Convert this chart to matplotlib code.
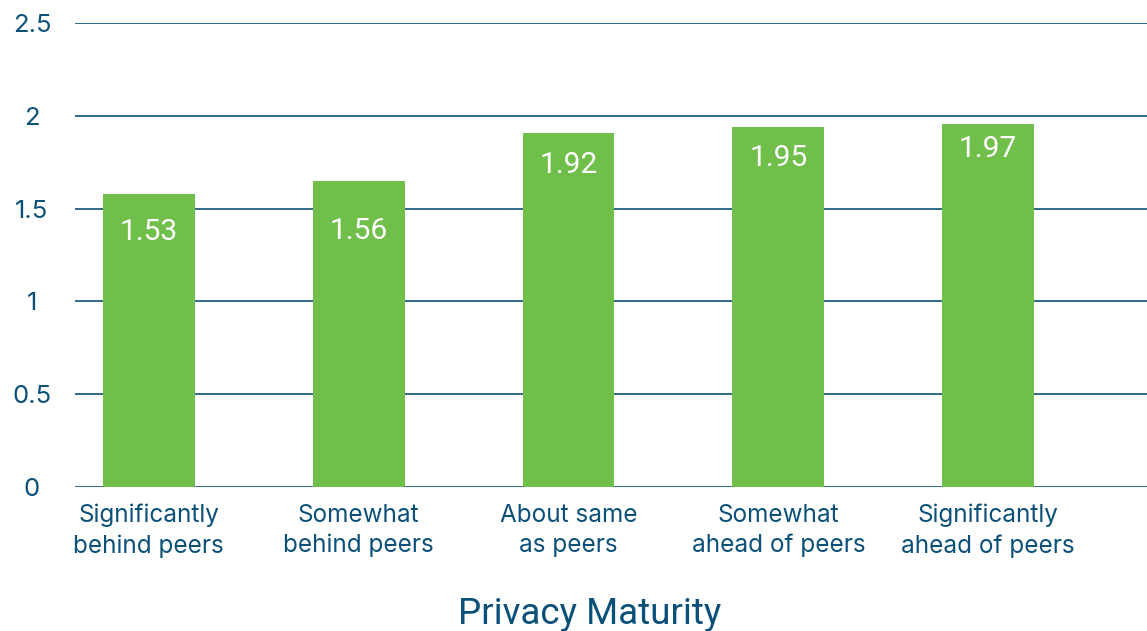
import matplotlib
matplotlib.use("Agg")
import matplotlib.pyplot as plt
import numpy as np

categories = ["Significantly\nbehind peers", "Somewhat\nbehind peers", "About same\nas peers",
              "Somewhat\nahead of peers", "Significantly\nahead of peers"]
bar_values = [1.58, 1.65, 1.907, 1.94, 1.956]
label_texts = ["1.53", "1.56", "1.92", "1.95", "1.97"]
label_pos = [1.375, 1.38, 1.735, 1.775, 1.82]
y_ticks = [0, 0.5, 1, 1.5, 2, 2.5]
y_tick_labels = ["0", "0.5", "1", "1.5", "2", "2.5"]
x_title = "Privacy Maturity"

GREEN = "#70BF4B"
TEXT = "#0B5078"
GRID = "#1F5F80"
FONT = "Roboto"
FONT2 = "Inter"

W, H = 1147, 631
fig = plt.figure(figsize=(W / 100, H / 100), dpi=100)
ax = fig.add_axes([75 / W, (H - 487) / H, 1 - 75 / W, (487 - 23) / H])

x = np.arange(len(categories))
ax.bar(x, bar_values, width=0.438, color=GREEN, zorder=3)
for xi, t, yp in zip(x, label_texts, label_pos):
    ax.text(xi, yp, t, ha="center", va="center", color="white", fontsize=21.5,
            family=FONT, zorder=4)

ax.set_xlim(-0.352, 4.757)
ax.set_ylim(0, 2.5)
ax.set_yticks(y_ticks)
ax.set_yticklabels(y_tick_labels, family=FONT2, fontsize=18.5, color=TEXT)
for lbl in ax.get_yticklabels():
    lbl.set_ha("center")
ax.tick_params(axis="y", length=0, pad=31)
ax.set_xticks(x)
ax.set_xticklabels(categories, family=FONT2, fontsize=17.5, color=TEXT, linespacing=1.38)
ax.tick_params(axis="x", length=0, pad=12)

ax.grid(axis="y", color=GRID, linewidth=1.3, zorder=0)
ax.set_axisbelow(True)
for s in ax.spines.values():
    s.set_visible(False)

fig.text(590 / W, (H - 624) / H, x_title, ha="center", va="baseline",
         fontsize=26.5, color=TEXT, family=FONT)

fig.savefig("out.png", dpi=100)
